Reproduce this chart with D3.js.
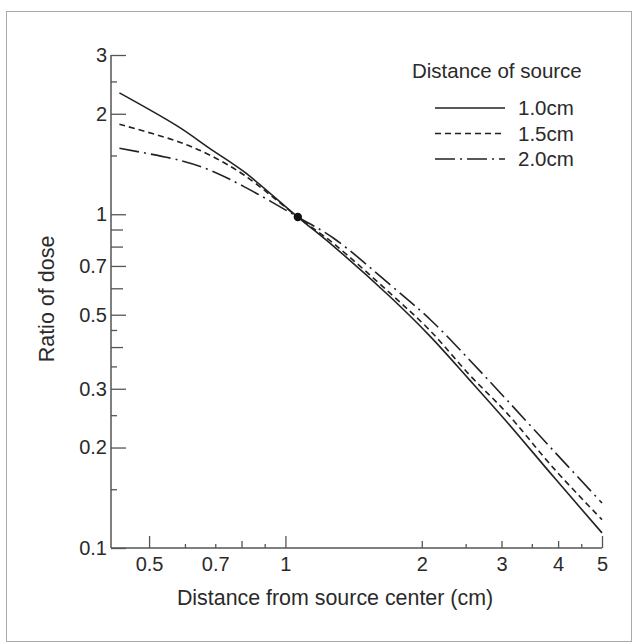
<!DOCTYPE html>
<html>
<head>
<meta charset="utf-8">
<script src="https://cdn.jsdelivr.net/npm/d3@7"></script>
<style>
  body { margin: 0; background: #fff; }
  svg { display: block; }
  text { font-family: "Liberation Sans", Arial, Helvetica, sans-serif; fill: #2a2a2a; }
</style>
</head>
<body>
<div id="chart"></div>
<script>
// values
const distance = [0.43, 0.58, 0.68, 0.81, 1.065, 1.28, 1.7, 2.09, 2.55, 3.08, 3.93, 5.0];
const dose10 = [2.31, 1.83, 1.576, 1.341, 0.981, 0.80, 0.567, 0.43, 0.319, 0.239, 0.162, 0.111];
const dose15 = [1.86, 1.65, 1.505, 1.311, 0.981, 0.815, 0.581, 0.447, 0.33, 0.254, 0.172, 0.1216];
const dose20 = [1.576, 1.454, 1.357, 1.21, 0.981, 0.846, 0.616, 0.483, 0.366, 0.278, 0.194, 0.1364];
const seriesNames = ['1.0cm', '1.5cm', '2.0cm'];
const normPoint = [1.065, 0.981];

const xLabelTicks = [0.5, 0.7, 1, 2, 3, 4, 5];
const xLongTicks = [0.5, 1, 5];
const xMidTicks = [0.8, 2, 3, 4];
const xShortTicks = [0.6, 0.7, 0.9, 2.5, 3.5, 4.5];

const yLabelTicks = [0.1, 0.2, 0.3, 0.5, 0.7, 1, 2, 3];
const yMidTicks = [0.4, 0.6, 0.8, 0.9];
const yShortTicks = [0.15, 0.25, 0.35, 0.45, 1.5, 2.5];

const W = 633, H = 643;
const FONT = 20;

const svg = d3.select('#chart').append('svg')
  .attr('width', W)
  .attr('height', H);

// scanned page frame
svg.append('rect')
  .attr('x', 6.5).attr('y', 11.5)
  .attr('width', 625).attr('height', 630)
  .attr('fill', 'none')
  .attr('stroke', '#aaa')
  .attr('stroke-width', 1);

const x = d3.scaleLog().domain([0.412, 5]).range([111, 602]);
const y = d3.scaleLog().domain([0.1, 3]).range([548, 55]);

const axisColor = '#555';

function styleAxis(g) {
  g.select('.domain').remove();
  g.selectAll('line').attr('stroke', axisColor).attr('stroke-width', 1.3);
  g.selectAll('text').attr('font-size', FONT).attr('fill', '#2a2a2a')
    .attr('font-family', '"Liberation Sans", Arial, sans-serif');
}

// x axis line + ticks (pointing up)
const xg = svg.append('g').attr('transform', 'translate(0,548)');
xg.append('line')
  .attr('x1', x.range()[0]).attr('x2', x.range()[1])
  .attr('stroke', axisColor).attr('stroke-width', 1.5);

[[xLongTicks, 12], [xMidTicks, 7], [xShortTicks, 4]].forEach(([vals, len]) => {
  xg.append('g')
    .call(d3.axisBottom(x).tickValues(vals).tickSizeInner(-len).tickSizeOuter(0).tickFormat(''))
    .call(styleAxis);
});
xg.append('g')
  .call(d3.axisBottom(x).tickValues(xLabelTicks).tickSize(0).tickPadding(9).tickFormat(d3.format('')))
  .call(styleAxis);

// y axis line + ticks (pointing right)
const yg = svg.append('g').attr('transform', 'translate(111,0)');
yg.append('line')
  .attr('y1', y.range()[0]).attr('y2', y.range()[1])
  .attr('stroke', axisColor).attr('stroke-width', 1.5);

[[yLabelTicks, 15], [yMidTicks, 12], [yShortTicks, 6]].forEach(([vals, len], i) => {
  yg.append('g')
    .call(d3.axisLeft(y).tickValues(vals).tickSizeInner(-len).tickSizeOuter(0)
      .tickPadding(4).tickFormat(i === 0 ? d3.format('') : ''))
    .call(styleAxis);
});

// axis titles
svg.append('text')
  .attr('x', 335).attr('y', 605)
  .attr('text-anchor', 'middle')
  .attr('font-size', 21.4)
  .text('Distance from source center (cm)');

svg.append('text')
  .attr('transform', 'translate(54,299) rotate(-90)')
  .attr('text-anchor', 'middle')
  .attr('font-size', 21.5)
  .text('Ratio of dose');

// curves
const dashes = [null, '6,4', '20,5,2,5'];
const series = [dose10, dose15, dose20].map((vals, i) => ({
  name: seriesNames[i],
  dash: dashes[i],
  points: distance.map((d, j) => [d, vals[j]])
}));

const line = d3.line()
  .x(d => x(d[0]))
  .y(d => y(d[1]))
  .curve(d3.curveCatmullRom.alpha(0.5));

svg.append('g')
  .selectAll('path')
  .data(series)
  .join('path')
  .attr('d', d => line(d.points))
  .attr('fill', 'none')
  .attr('stroke', '#222')
  .attr('stroke-width', 1.6)
  .attr('stroke-dasharray', d => d.dash);

svg.append('circle')
  .attr('cx', x(normPoint[0]))
  .attr('cy', y(normPoint[1]))
  .attr('r', 4.2)
  .attr('fill', '#111');

// legend
const legend = svg.append('g');
legend.append('text')
  .attr('x', 412).attr('y', 78)
  .attr('font-size', 20.5)
  .text('Distance of source');

const rowY = d3.scalePoint().domain(seriesNames).range([108, 159]);
const rows = legend.selectAll('g.row')
  .data(series)
  .join('g')
  .attr('class', 'row')
  .attr('transform', d => `translate(0,${rowY(d.name)})`);

rows.append('line')
  .attr('x1', 435).attr('x2', 505)
  .attr('stroke', '#222')
  .attr('stroke-width', 1.5)
  .attr('stroke-dasharray', d => d.dash);

rows.append('text')
  .attr('x', 518).attr('y', 7)
  .attr('font-size', 20.5)
  .text(d => d.name);
</script>
</body>
</html>
